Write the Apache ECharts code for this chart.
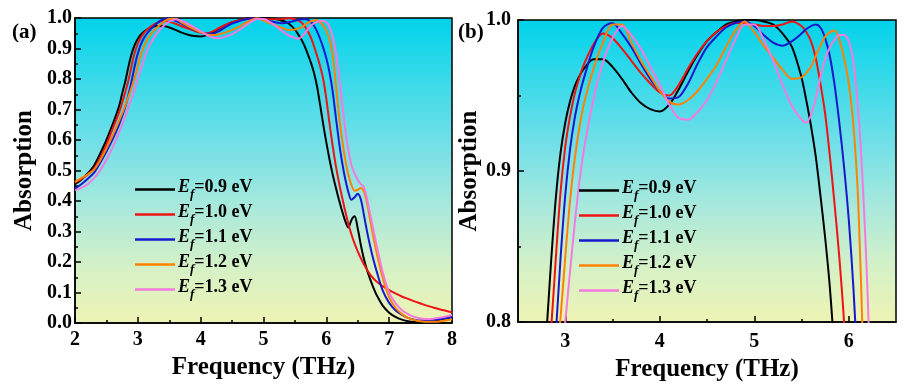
<!DOCTYPE html>
<html><head><meta charset="utf-8">
<script src="https://cdn.jsdelivr.net/npm/echarts@6/dist/echarts.min.js"></script>
<style>html,body{margin:0;padding:0;background:#fff}#c{width:919px;height:387px}</style>
</head><body><div id="c"></div>
<script>
// Frequency grid (THz)
const freq = [2.0,2.1,2.2,2.3,2.4,2.5,2.6,2.7,2.75,2.8,2.85,2.9,2.95,3.0,3.05,3.1,3.15,3.2,3.3,3.4,3.5,3.6,3.7,3.8,3.9,4.0,4.1,4.2,4.3,4.4,4.5,4.6,4.7,4.8,4.9,5.0,5.1,5.2,5.3,5.4,5.5,5.55,5.6,5.65,5.7,5.75,5.8,5.85,5.9,5.95,6.0,6.05,6.1,6.15,6.2,6.25,6.3,6.35,6.4,6.45,6.5,6.55,6.6,6.65,6.7,6.75,6.8,6.9,7.0,7.1,7.2,7.3,7.4,7.5,7.6,7.7,7.8,7.9,8.0];
// Absorption, Ef = 0.9 eV
const ef09 = [.455,.47,.49,.515,.555,.6,.652,.71,.752,.792,.84,.882,.912,.932,.946,.956,.963,.968,.974,.974,.969,.961,.952,.945,.941,.9395,.944,.954,.966,.977,.986,.992,.997,.999,1.0,1.0,.999,.997,.991,.982,.962,.947,.93,.91,.884,.856,.823,.778,.717,.652,.592,.537,.488,.445,.405,.368,.335,.313,.338,.35,.31,.255,.208,.172,.142,.115,.092,.056,.034,.02,.011,.006,.003,.002,.004,.007,.011,.015,.019];
// Absorption, Ef = 1.0 eV
const ef10 = [.46,.472,.486,.505,.54,.585,.637,.69,.722,.757,.795,.842,.886,.916,.936,.951,.962,.971,.984,.991,.988,.981,.973,.965,.958,.952,.95,.957,.968,.978,.986,.992,.996,.998,.998,.997,.996,.996,.997,.999,.996,.992,.986,.975,.958,.938,.91,.878,.843,.8,.735,.655,.582,.517,.462,.413,.367,.325,.29,.26,.235,.212,.192,.174,.158,.146,.136,.12,.108,.097,.087,.079,.071,.064,.057,.051,.045,.04,.035];
// Absorption, Ef = 1.1 eV
const ef11 = [.44,.455,.472,.492,.525,.562,.603,.65,.678,.708,.748,.792,.842,.884,.914,.935,.95,.962,.982,.995,.998,.991,.982,.971,.961,.953,.948,.949,.958,.971,.982,.989,.995,.998,.999,.996,.99,.985,.983,.986,.991,.994,.996,.997,.995,.988,.976,.957,.932,.903,.868,.822,.76,.677,.597,.528,.473,.43,.404,.412,.424,.405,.352,.298,.25,.207,.17,.105,.066,.042,.027,.017,.011,.008,.008,.01,.013,.016,.02];
// Absorption, Ef = 1.2 eV
const ef12 = [.463,.475,.487,.502,.533,.572,.615,.662,.687,.713,.742,.772,.803,.843,.88,.908,.929,.945,.968,.985,.997,.997,.985,.973,.963,.953,.946,.944,.947,.953,.961,.97,.982,.993,.999,.992,.983,.975,.967,.961,.962,.965,.969,.976,.983,.989,.992,.993,.987,.975,.958,.93,.88,.785,.685,.603,.537,.486,.452,.434,.437,.443,.43,.39,.335,.28,.23,.145,.085,.05,.03,.017,.01,.006,.004,.004,.005,.008,.012];
// Absorption, Ef = 1.3 eV
const ef13 = [.435,.443,.455,.474,.5,.535,.576,.624,.65,.677,.706,.737,.768,.8,.833,.865,.893,.915,.948,.972,.988,.996,.99,.981,.969,.957,.944,.935,.934,.939,.947,.959,.973,.987,.997,.997,.987,.973,.957,.943,.934,.932,.937,.948,.962,.974,.982,.987,.99,.99,.986,.972,.94,.89,.818,.722,.638,.567,.517,.49,.47,.455,.445,.405,.355,.305,.255,.165,.1,.065,.043,.029,.02,.015,.013,.014,.017,.021,.026];

const seriesNames = ['Ef=0.9 eV','Ef=1.0 eV','Ef=1.1 eV','Ef=1.2 eV','Ef=1.3 eV'];
const seriesValues = [ef09, ef10, ef11, ef12, ef13];
const seriesColors = ['#000000','#ee1414','#1818cc','#ff8205','#f57ae0'];
const xMajorB = [3,4,5,6];
const xMinorB = [3.5,4.5,5.5];

const FONT = '"Liberation Serif","Times New Roman",serif';
const bg = new echarts.graphic.LinearGradient(0,0,0,1,[
  {offset:0,color:'#00d2ea'},{offset:0.12,color:'#22d7ea'},{offset:0.4,color:'#6fdfe8'},
  {offset:0.62,color:'#a9e9dc'},{offset:0.82,color:'#d6f1c6'},{offset:1,color:'#eef3b4'}]);

const lbl = {fontFamily:FONT,fontWeight:'bold',fontSize:20,color:'#000'};
const nameSt = {fontFamily:FONT,fontWeight:'bold',fontSize:25,color:'#000'};
const rich = {
  e:{fontFamily:FONT,fontWeight:'bold',fontStyle:'italic',fontSize:18,color:'#000',verticalAlign:'bottom',padding:[0,0,5,0]},
  s:{fontFamily:FONT,fontWeight:'bold',fontStyle:'italic',fontSize:13,color:'#000',verticalAlign:'bottom'},
  v:{fontFamily:FONT,fontWeight:'bold',fontSize:18,color:'#000',verticalAlign:'bottom',padding:[0,0,5,0]}
};
const legendFmt = n => '{e|E}{s|f}{v|' + n.slice(2) + '}';

const series = [];
[0,1].forEach(p => {
  seriesNames.forEach((n,i) => {
    series.push({
      name:n, type:'line', xAxisIndex:p, yAxisIndex:p,
      data: freq.map((f,k)=>[f, seriesValues[i][k]]),
      symbol:'none', smooth:0.3, clip:true,
      lineStyle:{color:seriesColors[i], width:2}, itemStyle:{color:seriesColors[i]}, z:3
    });
  });
});

const legendBase = {orient:'vertical', icon:'rect', itemWidth:40, itemHeight:2.5, itemGap:2, selectedMode:false,
  data:seriesNames, formatter:legendFmt, textStyle:{rich:rich, padding:[0,0,0,-2]}};

const chart = echarts.init(document.getElementById('c'), null, {renderer:'canvas'});
chart.setOption({
  animation:false,
  backgroundColor:'#fff',
  grid:[
    {left:75, top:18, width:377, height:305, show:true, backgroundColor:bg, borderColor:'#000', borderWidth:1.5},
    {left:518, top:20, width:378, height:305, show:true, backgroundColor:bg, borderColor:'#000', borderWidth:1.5}
  ],
  xAxis:[
    {gridIndex:0, type:'value', min:2, max:8, interval:1,
     name:'Frequency (THz)', nameLocation:'middle', nameGap:23, nameTextStyle:nameSt,
     axisLine:{show:true,lineStyle:{color:'#000',width:1.5}},
     axisTick:{inside:true,length:6,lineStyle:{color:'#000',width:1.5}},
     minorTick:{show:true,splitNumber:2,length:3,lineStyle:{color:'#000',width:1.5}},
     axisLabel:{...lbl, margin:7}, splitLine:{show:false}},
    {gridIndex:1, type:'value', min:2.5, max:6.5,
     name:'Frequency (THz)', nameLocation:'middle', nameGap:22, nameTextStyle:nameSt,
     axisLine:{show:true,lineStyle:{color:'#000',width:1.5}},
     axisTick:{inside:true,length:6,customValues:xMajorB,lineStyle:{color:'#000',width:1.5}},
     axisLabel:{...lbl, margin:10, customValues:xMajorB}, splitLine:{show:false}},
    {gridIndex:1, type:'value', min:2.5, max:6.5, position:'bottom',
     axisLine:{show:false},
     axisTick:{show:true,inside:true,length:3,customValues:xMinorB,lineStyle:{color:'#000',width:1.5}},
     axisLabel:{show:false}, splitLine:{show:false}}
  ],
  yAxis:[
    {gridIndex:0, type:'value', min:0, max:1, interval:0.1,
     name:'Absorption', nameLocation:'middle', nameGap:38, nameTextStyle:nameSt,
     axisLine:{show:true,lineStyle:{color:'#000',width:1.5}},
     axisTick:{inside:true,length:6,lineStyle:{color:'#000',width:1.5}},
     minorTick:{show:true,splitNumber:2,length:3,lineStyle:{color:'#000',width:1.5}},
     axisLabel:{...lbl, margin:3, formatter:v=>v.toFixed(1)}, splitLine:{show:false}},
    {gridIndex:1, type:'value', min:0.8, max:1.0, interval:0.1,
     name:'Absorption', nameLocation:'middle', nameGap:36, nameTextStyle:nameSt,
     axisLine:{show:true,lineStyle:{color:'#000',width:1.5}},
     axisTick:{inside:true,length:6,lineStyle:{color:'#000',width:1.5}},
     minorTick:{show:true,splitNumber:2,length:3,lineStyle:{color:'#000',width:1.5}},
     axisLabel:{...lbl, margin:7, formatter:v=>v.toFixed(1)}, splitLine:{show:false}}
  ],
  legend:[
    Object.assign({left:130, top:173}, legendBase),
    Object.assign({left:574, top:174}, legendBase)
  ],
  graphic:[
    {type:'text', left:12, top:22, style:{text:'(a)', font:'bold 21px '+FONT, fill:'#000'}},
    {type:'text', left:458, top:22, style:{text:'(b)', font:'bold 21px '+FONT, fill:'#000'}}
  ],
  series:series
});
</script></body></html>
